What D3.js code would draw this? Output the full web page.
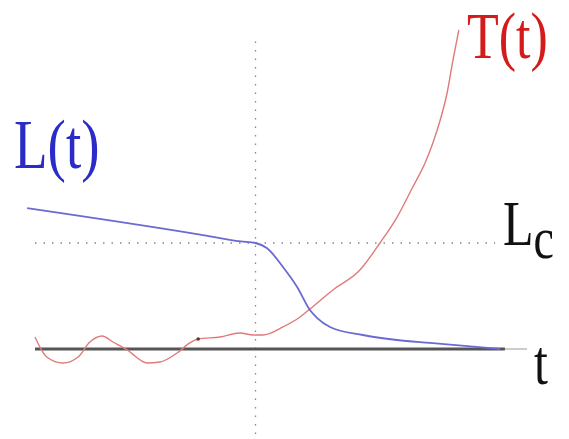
<!DOCTYPE html>
<html><head><meta charset="utf-8">
<script src="https://cdn.jsdelivr.net/npm/d3@7"></script>
<style>body{margin:0;background:#fff}svg{display:block}</style>
</head><body>
<svg id="c" width="569" height="439"></svg>
<script>
// Data (t relative to critical time, value relative to Lc)
const lT = [-4.66, -1.13, -0.3, 0, 0.23, 0.56, 0.85, 1.11, 1.26, 1.52, 2.19, 2.89, 3.56, 4.99];
const lV = [1.33, 1.08, 1.015, 1.0, 0.953, 0.774, 0.585, 0.368, 0.292, 0.208, 0.132, 0.085, 0.057, 0.0];
const tT = [-4.5, -4.4, -4.26, -3.93, -3.62, -3.38, -3.13, -2.91, -2.62, -2.21, -1.95, -1.6, -1.34, -1.17, -0.72, -0.32, -0.05, 0.15, 0.56, 0.91, 1.11, 1.58, 2.13, 2.54, 2.89, 3.21, 3.46, 3.62, 3.77, 3.91, 4.03, 4.15];
const tV = [0.113, 0.019, -0.075, -0.132, -0.075, 0.066, 0.123, 0.066, -0.009, -0.132, -0.123, -0.038, 0.057, 0.094, 0.113, 0.151, 0.132, 0.132, 0.208, 0.302, 0.377, 0.557, 0.745, 1.0, 1.245, 1.528, 1.755, 1.943, 2.16, 2.415, 2.726, 3.01];
const Lc = 1.0;
const tCrit = 0;
const axisStart = -4.5, axisThickEnd = 5.09, axisEnd = 5.54;
const lcStart = -4.5, lcEnd = 4.89;
const vLineTop = 2.9, vLineBottom = -0.81;
const markT = -1.17, markV = 0.094;

const svg = d3.select("#c");
const x = d3.scaleLinear().domain([-4.5, 5.5]).range([35, 525]);
const y = d3.scaleLinear().domain([0, 1]).range([349, 243]);

// dotted guides
svg.append("line").attr("x1", x(tCrit)).attr("x2", x(tCrit)).attr("y1", y(vLineTop)).attr("y2", y(vLineBottom))
  .attr("stroke", "#888").attr("stroke-width", 1.3).attr("stroke-dasharray", "1.5,7");
svg.append("line").attr("x1", x(lcStart)).attr("x2", x(lcEnd)).attr("y1", y(Lc)).attr("y2", y(Lc))
  .attr("stroke", "#888").attr("stroke-width", 1.3).attr("stroke-dasharray", "1.5,7");

// time axis
svg.append("line").attr("x1", x(axisStart)).attr("x2", x(axisEnd)).attr("y1", y(0)).attr("y2", y(0))
  .attr("stroke", "#999").attr("stroke-width", 1.2);
svg.append("line").attr("x1", x(axisStart)).attr("x2", x(axisThickEnd)).attr("y1", y(0)).attr("y2", y(0))
  .attr("stroke", "#555").attr("stroke-width", 3);

const line = d3.line().x(d => x(d[0])).y(d => y(d[1])).curve(d3.curveMonotoneX);

svg.append("path").attr("d", line(tT.map((t, i) => [t, tV[i]])))
  .attr("fill", "none").attr("stroke", "#e07a7a").attr("stroke-width", 1.4);
svg.append("path").attr("d", line(lT.map((t, i) => [t, lV[i]])))
  .attr("fill", "none").attr("stroke", "#6a6ad2").attr("stroke-width", 1.8);

svg.append("circle").attr("cx", x(markT)).attr("cy", y(markV)).attr("r", 1.8).attr("fill", "#444");

// labels
function label(txt, px, py, size, color) {
  return svg.append("text").attr("transform", `translate(${px},${py}) scale(1,1.28)`)
    .attr("font-family", "Liberation Serif, Times New Roman, serif").attr("font-size", size)
    .attr("fill", color).text(txt);
}
label("L(t)", 14, 168, 55, "#2b2bc8");
label("T(t)", 467, 58, 52, "#d41a1a");
const lc = label("L", 503, 245, 50, "#111");
lc.append("tspan").attr("font-size", 46).attr("dy", 10).text("c");
label("t", 534, 384, 50, "#111");
</script>
</body></html>
